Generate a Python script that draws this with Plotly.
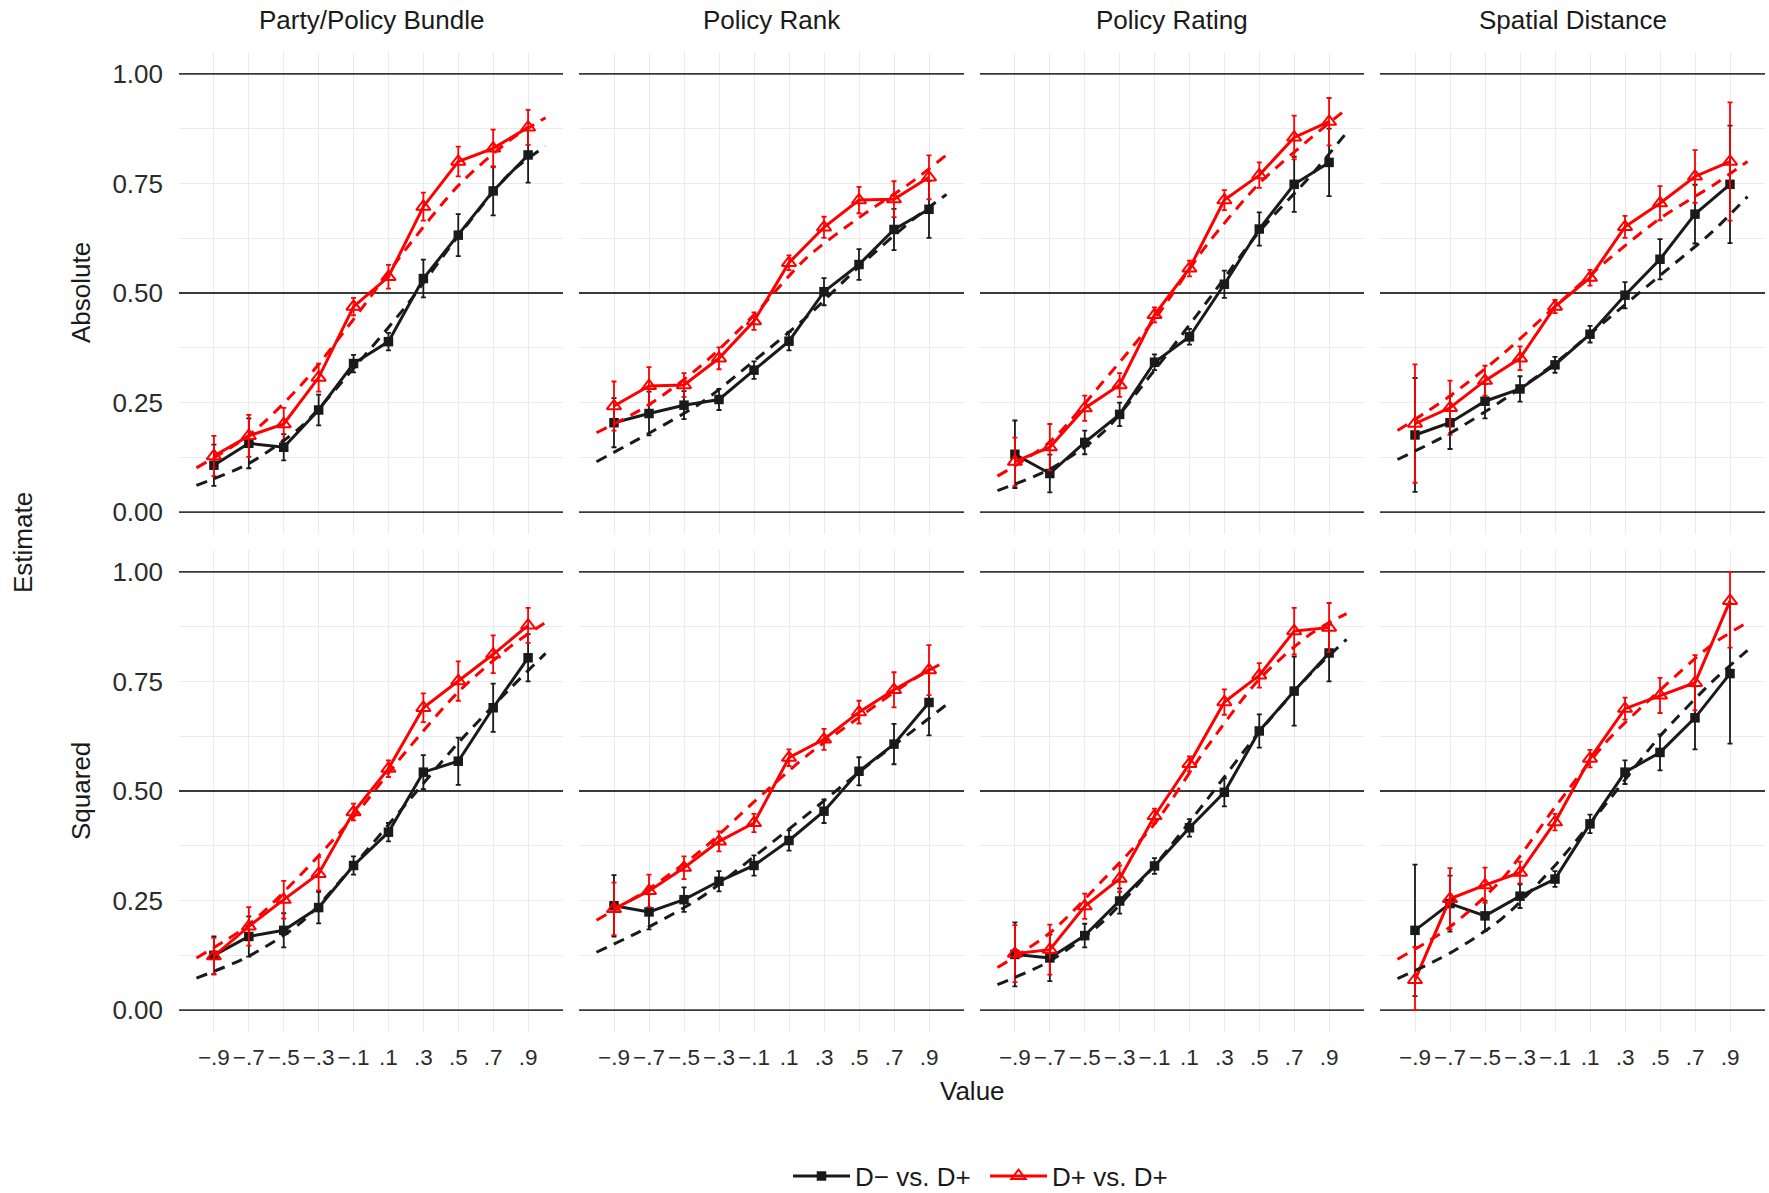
import plotly.graph_objects as go

# ---------------- data ----------------
facets = ["Party/Policy Bundle", "Policy Rank", "Policy Rating", "Spatial Distance"]
row_labels = ["Absolute", "Squared"]
series_names = ["D\u2212 vs. D+", "D+ vs. D+"]
x_values = [-0.9, -0.7, -0.5, -0.3, -0.1, 0.1, 0.3, 0.5, 0.7, 0.9]
x_ticktext = ["\u2212.9", "\u2212.7", "\u2212.5", "\u2212.3", "\u2212.1", ".1", ".3", ".5", ".7", ".9"]
y_tickvals = [0, 0.25, 0.5, 0.75, 1.0]
y_ticktext = ["0.00", "0.25", "0.50", "0.75", "1.00"]
ref_lines = [0.0, 0.5, 1.0]
fit_x = [-1.0, -0.7, -0.4, -0.1, 0.2, 0.5, 0.8, 1.0]

# Absolute row
abs_bundle_dm = [0.107, 0.157, 0.148, 0.233, 0.339, 0.389, 0.533, 0.632, 0.733, 0.815]
abs_bundle_dm_ci = [0.047, 0.057, 0.030, 0.035, 0.020, 0.020, 0.043, 0.048, 0.056, 0.063]
abs_bundle_dp = [0.128, 0.174, 0.201, 0.307, 0.469, 0.537, 0.697, 0.800, 0.830, 0.878]
abs_bundle_dp_ci = [0.046, 0.048, 0.037, 0.032, 0.020, 0.027, 0.032, 0.034, 0.043, 0.040]
abs_bundle_dm_fit = [0.061, 0.111, 0.195, 0.328, 0.470, 0.630, 0.775, 0.835]
abs_bundle_dp_fit = [0.101, 0.175, 0.290, 0.440, 0.600, 0.745, 0.850, 0.900]

abs_rank_dm = [0.204, 0.225, 0.244, 0.257, 0.324, 0.390, 0.503, 0.565, 0.645, 0.691]
abs_rank_dm_ci = [0.056, 0.050, 0.032, 0.024, 0.020, 0.021, 0.031, 0.035, 0.047, 0.065]
abs_rank_dp = [0.242, 0.288, 0.290, 0.351, 0.436, 0.569, 0.650, 0.712, 0.714, 0.764]
abs_rank_dp_ci = [0.056, 0.043, 0.027, 0.025, 0.020, 0.017, 0.024, 0.030, 0.041, 0.050]
abs_rank_dm_fit = [0.115, 0.180, 0.250, 0.345, 0.445, 0.560, 0.665, 0.725]
abs_rank_dp_fit = [0.181, 0.245, 0.335, 0.450, 0.580, 0.672, 0.753, 0.815]

abs_rating_dm = [0.132, 0.088, 0.159, 0.223, 0.342, 0.400, 0.520, 0.646, 0.748, 0.798]
abs_rating_dm_ci = [0.077, 0.043, 0.027, 0.027, 0.018, 0.018, 0.031, 0.038, 0.063, 0.077]
abs_rating_dp = [0.115, 0.148, 0.237, 0.290, 0.450, 0.556, 0.712, 0.769, 0.855, 0.891]
abs_rating_dp_ci = [0.055, 0.053, 0.029, 0.027, 0.017, 0.018, 0.023, 0.029, 0.050, 0.054]
abs_rating_dm_fit = [0.049, 0.098, 0.180, 0.324, 0.480, 0.640, 0.770, 0.866]
abs_rating_dp_fit = [0.082, 0.160, 0.295, 0.440, 0.610, 0.750, 0.855, 0.920]

abs_spatial_dm = [0.176, 0.204, 0.253, 0.281, 0.336, 0.406, 0.495, 0.577, 0.680, 0.748]
abs_spatial_dm_ci = [0.130, 0.060, 0.039, 0.029, 0.018, 0.019, 0.030, 0.046, 0.067, 0.134]
abs_spatial_dp = [0.202, 0.238, 0.300, 0.351, 0.469, 0.535, 0.651, 0.705, 0.766, 0.800]
abs_spatial_dp_ci = [0.135, 0.062, 0.034, 0.027, 0.015, 0.018, 0.025, 0.039, 0.060, 0.135]
abs_spatial_dm_fit = [0.120, 0.180, 0.255, 0.340, 0.440, 0.540, 0.640, 0.720]
abs_spatial_dp_fit = [0.186, 0.265, 0.360, 0.469, 0.575, 0.670, 0.745, 0.800]

# Squared row
sq_bundle_dm = [0.125, 0.168, 0.182, 0.234, 0.330, 0.406, 0.543, 0.568, 0.690, 0.804]
sq_bundle_dm_ci = [0.043, 0.046, 0.039, 0.036, 0.021, 0.021, 0.039, 0.054, 0.055, 0.054]
sq_bundle_dp = [0.123, 0.191, 0.252, 0.311, 0.452, 0.551, 0.690, 0.751, 0.812, 0.878]
sq_bundle_dp_ci = [0.042, 0.044, 0.043, 0.038, 0.019, 0.019, 0.033, 0.045, 0.043, 0.040]
sq_bundle_dm_fit = [0.073, 0.123, 0.200, 0.330, 0.470, 0.610, 0.735, 0.814]
sq_bundle_dp_fit = [0.119, 0.195, 0.310, 0.441, 0.590, 0.726, 0.830, 0.885]

sq_rank_dm = [0.238, 0.224, 0.252, 0.294, 0.330, 0.387, 0.454, 0.545, 0.607, 0.702]
sq_rank_dm_ci = [0.070, 0.040, 0.028, 0.023, 0.023, 0.023, 0.027, 0.032, 0.046, 0.075]
sq_rank_dp = [0.231, 0.272, 0.325, 0.385, 0.427, 0.576, 0.618, 0.680, 0.731, 0.776]
sq_rank_dp_ci = [0.060, 0.037, 0.026, 0.023, 0.021, 0.019, 0.024, 0.026, 0.040, 0.057]
sq_rank_dm_fit = [0.132, 0.190, 0.258, 0.350, 0.445, 0.543, 0.635, 0.697]
sq_rank_dp_fit = [0.205, 0.277, 0.365, 0.475, 0.580, 0.668, 0.752, 0.797]

sq_rating_dm = [0.127, 0.119, 0.170, 0.249, 0.329, 0.416, 0.497, 0.637, 0.728, 0.815]
sq_rating_dm_ci = [0.073, 0.053, 0.027, 0.029, 0.018, 0.020, 0.032, 0.038, 0.079, 0.065]
sq_rating_dp = [0.129, 0.138, 0.237, 0.300, 0.443, 0.562, 0.703, 0.764, 0.865, 0.873]
sq_rating_dp_ci = [0.065, 0.057, 0.029, 0.030, 0.017, 0.017, 0.029, 0.028, 0.053, 0.056]
sq_rating_dm_fit = [0.058, 0.112, 0.200, 0.330, 0.480, 0.635, 0.770, 0.846]
sq_rating_dp_fit = [0.097, 0.176, 0.295, 0.425, 0.600, 0.755, 0.860, 0.905]

sq_spatial_dm = [0.182, 0.243, 0.215, 0.260, 0.299, 0.425, 0.543, 0.588, 0.667, 0.768]
sq_spatial_dm_ci = [0.150, 0.064, 0.035, 0.027, 0.018, 0.021, 0.027, 0.041, 0.072, 0.160]
sq_spatial_dp = [0.069, 0.254, 0.285, 0.314, 0.429, 0.574, 0.688, 0.718, 0.747, 0.934]
sq_spatial_dp_ci = [0.075, 0.070, 0.040, 0.025, 0.019, 0.020, 0.025, 0.040, 0.063, 0.107]
sq_spatial_dm_fit = [0.072, 0.130, 0.210, 0.330, 0.475, 0.625, 0.750, 0.821]
sq_spatial_dp_fit = [0.116, 0.190, 0.300, 0.463, 0.615, 0.730, 0.835, 0.885]

panel_data = [
    [(abs_bundle_dm, abs_bundle_dm_ci, abs_bundle_dp, abs_bundle_dp_ci, abs_bundle_dm_fit, abs_bundle_dp_fit),
     (abs_rank_dm, abs_rank_dm_ci, abs_rank_dp, abs_rank_dp_ci, abs_rank_dm_fit, abs_rank_dp_fit),
     (abs_rating_dm, abs_rating_dm_ci, abs_rating_dp, abs_rating_dp_ci, abs_rating_dm_fit, abs_rating_dp_fit),
     (abs_spatial_dm, abs_spatial_dm_ci, abs_spatial_dp, abs_spatial_dp_ci, abs_spatial_dm_fit, abs_spatial_dp_fit)],
    [(sq_bundle_dm, sq_bundle_dm_ci, sq_bundle_dp, sq_bundle_dp_ci, sq_bundle_dm_fit, sq_bundle_dp_fit),
     (sq_rank_dm, sq_rank_dm_ci, sq_rank_dp, sq_rank_dp_ci, sq_rank_dm_fit, sq_rank_dp_fit),
     (sq_rating_dm, sq_rating_dm_ci, sq_rating_dp, sq_rating_dp_ci, sq_rating_dm_fit, sq_rating_dp_fit),
     (sq_spatial_dm, sq_spatial_dm_ci, sq_spatial_dp, sq_spatial_dp_ci, sq_spatial_dm_fit, sq_spatial_dp_fit)],
]

# ---------------- styling / layout ----------------
W, H = 1769, 1193
FONT = "Liberation Sans, Arial, Helvetica, sans-serif"
BLACK = "#1a1a1a"
RED = "#ff0000"
GRID = "#ebebeb"
X_RANGE = [-1.1, 1.1]
col_px = [(179, 563), (579, 964), (980, 1364), (1380, 1765)]
row_px = [(52, 534), (550, 1032)]


def err(vals, ci):
    up = [min(v + e, 1.0) - v for v, e in zip(vals, ci)]
    dn = [v - max(v - e, 0.0) for v, e in zip(vals, ci)]
    return up, dn


fig = go.Figure()
layout = {}
annotations = []

for i in range(2):
    for j in range(4):
        n = i * 4 + j + 1
        xs = "" if n == 1 else str(n)
        xa, ya = "x" + xs, "y" + xs
        x0, x1 = col_px[j]
        r0, r1 = row_px[i]
        layout["xaxis" + xs] = dict(
            domain=[x0 / W, x1 / W], anchor=ya, range=X_RANGE,
            tickvals=x_values, ticktext=x_ticktext, showticklabels=(i == 1),
            showgrid=True, gridcolor=GRID, gridwidth=1.2, zeroline=False, showline=False,
            ticks="", tickfont=dict(size=22.5, color="#2b2b2b", family=FONT),
            ticklabelstandoff=9,
        )
        layout["yaxis" + xs] = dict(
            domain=[1 - r1 / H, 1 - r0 / H], anchor=xa, range=[-0.05, 1.05],
            tickvals=y_tickvals, ticktext=y_ticktext, showticklabels=(j == 0),
            showgrid=True, gridcolor=GRID, gridwidth=1.2, zeroline=False, showline=False,
            ticks="", tickfont=dict(size=26, color="#2b2b2b", family=FONT),
            ticklabelstandoff=15,
            minor=dict(tickvals=[0.125, 0.375, 0.625, 0.875], showgrid=True,
                       gridcolor=GRID, gridwidth=1.0),
        )
        # horizontal reference lines (geom_hline) at 0, .5, 1
        hx, hy = [], []
        for yv in ref_lines:
            hx += [X_RANGE[0], X_RANGE[1], None]
            hy += [yv, yv, None]
        fig.add_trace(go.Scatter(
            x=hx, y=hy, mode="lines", showlegend=False, xaxis=xa, yaxis=ya,
            line=dict(color="#3a3a3a", width=1.8), hoverinfo="skip", cliponaxis=False,
        ))

        dm, dm_ci, dp, dp_ci, dm_fit, dp_fit = panel_data[i][j]
        first = (n == 1)
        up, dn = err(dm, dm_ci)
        fig.add_trace(go.Scatter(
            x=x_values, y=dm, mode="lines+markers", name=series_names[0],
            legendgroup="dm", showlegend=first, xaxis=xa, yaxis=ya,
            line=dict(color=BLACK, width=3),
            marker=dict(symbol="square", size=9.5, color=BLACK),
            error_y=dict(type="data", array=up, arrayminus=dn, color=BLACK,
                         thickness=1.8, width=2.5),
        ))
        up, dn = err(dp, dp_ci)
        fig.add_trace(go.Scatter(
            x=x_values, y=dp, mode="lines+markers", name=series_names[1],
            legendgroup="dp", showlegend=first, xaxis=xa, yaxis=ya,
            line=dict(color=RED, width=3),
            marker=dict(symbol="triangle-up-open", size=12.5, color=RED,
                        line=dict(color=RED, width=2)),
            error_y=dict(type="data", array=up, arrayminus=dn, color=RED,
                         thickness=1.8, width=2.5),
        ))
        fig.add_trace(go.Scatter(
            x=fit_x, y=dm_fit, mode="lines", showlegend=False, xaxis=xa, yaxis=ya,
            line=dict(color=BLACK, width=3, dash="11px,8px", shape="spline", smoothing=0.8),
            hoverinfo="skip",
        ))
        fig.add_trace(go.Scatter(
            x=fit_x, y=dp_fit, mode="lines", showlegend=False, xaxis=xa, yaxis=ya,
            line=dict(color=RED, width=3, dash="11px,8px", shape="spline", smoothing=0.8),
            hoverinfo="skip",
        ))

# strip titles
for j, name in enumerate(facets):
    cx = (col_px[j][0] + col_px[j][1]) / 2 / W
    annotations.append(dict(text=name, x=cx, y=1 - 20 / H, xref="paper", yref="paper",
                            showarrow=False, xanchor="center", yanchor="middle",
                            font=dict(size=26, color="#1a1a1a", family=FONT)))
# row labels
for i, name in enumerate(row_labels):
    cy = 1 - (row_px[i][0] + row_px[i][1]) / 2 / H
    annotations.append(dict(text=name, x=81 / W, y=cy, xref="paper", yref="paper",
                            showarrow=False, textangle=-90, xanchor="center", yanchor="middle",
                            font=dict(size=26, color="#1a1a1a", family=FONT)))
annotations.append(dict(text="Estimate", x=23 / W, y=1 - 543 / H, xref="paper", yref="paper",
                        showarrow=False, textangle=-90, xanchor="center", yanchor="middle",
                        font=dict(size=26, color="#1a1a1a", family=FONT)))
annotations.append(dict(text="Value", x=972 / W, y=1 - 1091 / H, xref="paper", yref="paper",
                        showarrow=False, xanchor="center", yanchor="middle",
                        font=dict(size=26, color="#1a1a1a", family=FONT)))

fig.update_layout(
    width=W, height=H,
    margin=dict(l=0, r=0, t=0, b=0, autoexpand=False),
    paper_bgcolor="white", plot_bgcolor="white",
    font=dict(family=FONT, color="#1a1a1a"),
    annotations=annotations,
    legend=dict(orientation="h", x=985 / W, xanchor="center", y=1 - 1176 / H,
                yanchor="middle", font=dict(size=26, family=FONT, color="#1a1a1a"),
                bgcolor="rgba(0,0,0,0)", itemwidth=57, tracegroupgap=0,
                entrywidth=125, entrywidthmode="pixels"),
    **layout,
)

fig.write_html("out.html", config={"displayModeBar": False},
               post_script="document.body.style.margin='0px';document.body.style.overflow='hidden';")
